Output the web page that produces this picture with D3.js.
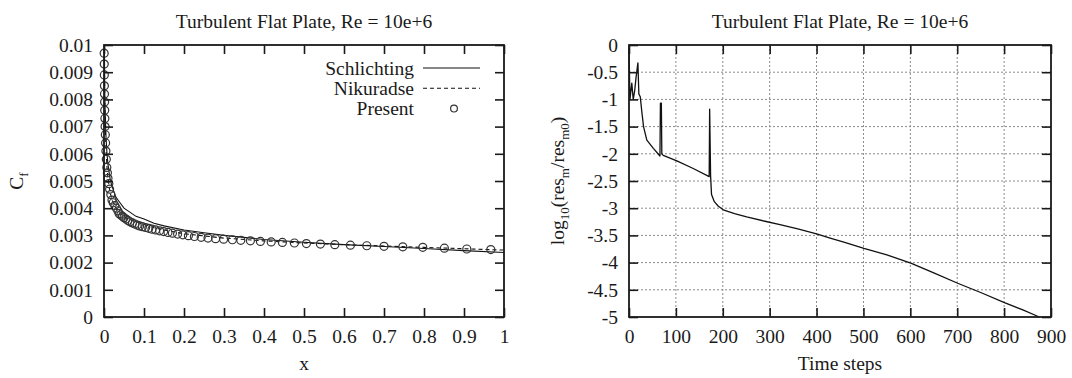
<!DOCTYPE html>
<html>
<head>
<meta charset="utf-8">
<script src="https://cdn.jsdelivr.net/npm/d3@7"></script>
<style>
  body { margin: 0; background: #fff; }
  svg { display: block; font-family: "Liberation Serif", "DejaVu Serif", serif; }
  .tick text { font-size: 19.5px; fill: #1a1a1a; }
</style>
</head>
<body>
<svg id="chart" width="1072" height="378"></svg>
<script>
// TITLES AND LABELS
const titleText = 'Turbulent Flat Plate, Re = 10e+6';
const legendNames = ['Schlichting', 'Nikuradse', 'Present'];

// LEFT PANEL TICKS
const xTicks = [0, 0.1, 0.2, 0.3, 0.4, 0.5, 0.6, 0.7, 0.8, 0.9, 1];
const cfTicks = [0, 0.001, 0.002, 0.003, 0.004, 0.005, 0.006, 0.007, 0.008, 0.009, 0.01];

// SCHLICHTING (SOLID)
const schX = [0.0003, 0.0005, 0.001, 0.002, 0.003, 0.005, 0.0075, 0.01, 0.015, 0.02, 0.03, 0.04, 0.05, 0.06, 0.08,
  0.1, 0.125, 0.15, 0.2, 0.25, 0.3, 0.4, 0.5, 0.6, 0.7, 0.8, 0.9, 1.0];
const schCf = [0.0135, 0.0118, 0.0098, 0.0082, 0.0075, 0.0066, 0.0060, 0.0056, 0.0051, 0.0048, 0.0044, 0.0042, 0.0040, 0.0039, 0.0037,
  0.0036, 0.00345, 0.00335, 0.0032, 0.0031, 0.0030, 0.00285, 0.00275, 0.00266, 0.00259, 0.00252, 0.00244, 0.00237];

// NIKURADSE (DASHED)
const nikX = [0.0003, 0.0005, 0.001, 0.002, 0.003, 0.005, 0.0075, 0.01, 0.015, 0.02, 0.03, 0.04, 0.05, 0.06, 0.08,
  0.1, 0.125, 0.15, 0.2, 0.25, 0.3, 0.4, 0.5, 0.6, 0.7, 0.8, 0.9, 1.0];
const nikCf = [0.0125, 0.0112, 0.0094, 0.0080, 0.0071, 0.0062, 0.0055, 0.0051, 0.0046, 0.0043, 0.0040, 0.0038, 0.0037, 0.0036, 0.0035,
  0.0034, 0.00328, 0.0032, 0.00306, 0.00298, 0.0029, 0.0028, 0.00272, 0.00266, 0.00261, 0.00256, 0.00251, 0.00246];

// PRESENT (CIRCLES)
const presX = [0.0004, 0.0006, 0.0008, 0.001, 0.0012, 0.0015, 0.0018, 0.0022, 0.0027, 0.0033, 0.004, 0.0048, 0.0058, 0.007,
  0.0085, 0.01, 0.012, 0.014, 0.017, 0.02, 0.023, 0.027, 0.031, 0.035, 0.038, 0.042, 0.046, 0.050, 0.055, 0.060, 0.065,
  0.071, 0.077, 0.083, 0.089, 0.096, 0.104, 0.112, 0.120, 0.129, 0.139, 0.149, 0.160, 0.171, 0.184, 0.197, 0.211, 0.226,
  0.243, 0.260, 0.279, 0.299, 0.321, 0.342, 0.366, 0.391, 0.418, 0.446, 0.476, 0.506, 0.541, 0.577, 0.616, 0.657, 0.700,
  0.747, 0.797, 0.851, 0.907, 0.967];
const presCf = [0.0097, 0.0093, 0.0089, 0.0085, 0.0082, 0.0079, 0.0076, 0.0073, 0.0070, 0.0067, 0.0064, 0.0061, 0.0058, 0.0055,
  0.0053, 0.0051, 0.0049, 0.0047, 0.0045, 0.0043, 0.0042, 0.0041, 0.0040, 0.0039, 0.0038, 0.00375, 0.0037, 0.00365, 0.0036,
  0.00355, 0.0035, 0.00346, 0.00342, 0.00338, 0.00335, 0.00332, 0.00329, 0.00326, 0.00323, 0.0032, 0.00317, 0.00314,
  0.00311, 0.00308, 0.00305, 0.00302, 0.00299, 0.00296, 0.00293, 0.0029, 0.00288, 0.00286, 0.00284, 0.00282, 0.0028,
  0.00278, 0.00276, 0.00274, 0.00272, 0.0027, 0.00268, 0.00266, 0.00264, 0.00262, 0.0026, 0.00258, 0.00256, 0.00253,
  0.0025, 0.00248];

// RIGHT PANEL TICKS
const stepTicks = [0, 100, 200, 300, 400, 500, 600, 700, 800, 900];
const resTicks = [0, -0.5, -1, -1.5, -2, -2.5, -3, -3.5, -4, -4.5, -5];

// RESIDUAL HISTORY
const steps = [0, 2, 6, 9, 12, 15, 19, 21, 24, 27, 31, 38, 52, 66, 67, 69, 70, 73, 102, 137, 171, 172, 174, 176, 182,
  190, 201, 225, 251, 290, 322, 360, 400, 429, 460, 501, 550, 601, 650, 701, 750, 802, 840, 875];
const logRes = [-0.05, -1.0, -0.7, -1.0, -0.85, -0.6, -0.33, -0.9, -0.95, -1.2, -1.5, -1.75, -1.9, -2.04, -1.07, -1.07, -2.0,
  -2.03, -2.13, -2.27, -2.42, -1.18, -2.4, -2.75, -2.88, -2.96, -3.03, -3.1, -3.16, -3.24, -3.3, -3.38, -3.47, -3.55,
  -3.63, -3.74, -3.86, -4.01, -4.19, -4.38, -4.55, -4.74, -4.87, -5.0];

const svg = d3.select('#chart');
const ink = '#1a1a1a';
const fs = 19.5;
const tk = 9;

// DRAW FRAME, MIRRORED TICKS AND LABELS
function drawAxes(g, x, y, w, h, xt, yt, xfmt, yfmt) {
  g.append('g')
    .attr('transform', `translate(0,${h})`)
    .call(d3.axisBottom(x).tickValues(xt).tickFormat(xfmt).tickSizeInner(-tk).tickSizeOuter(0).tickPadding(12));
  g.append('g')
    .call(d3.axisTop(x).tickValues(xt).tickFormat('').tickSizeInner(-tk).tickSizeOuter(0));
  g.append('g')
    .call(d3.axisLeft(y).tickValues(yt).tickFormat(yfmt).tickSizeInner(-tk).tickSizeOuter(0).tickPadding(11));
  g.append('g')
    .attr('transform', `translate(${w},0)`)
    .call(d3.axisRight(y).tickValues(yt).tickFormat('').tickSizeInner(-tk).tickSizeOuter(0));
  g.selectAll('.domain').remove();
  g.selectAll('.tick line').attr('stroke', ink).attr('stroke-width', 1.6);
  g.selectAll('.tick text').attr('font-family', 'Liberation Serif');

  g.append('rect')
    .attr('width', w)
    .attr('height', h)
    .attr('fill', 'none')
    .attr('stroke', ink)
    .attr('stroke-width', 1.8);
}

// LEFT PANEL: SKIN FRICTION
(function drawLeft() {
  const m = { left: 104, top: 45 };
  const w = 400, h = 272;
  const g = svg.append('g').attr('transform', `translate(${m.left},${m.top})`);

  const x = d3.scaleLinear().domain([0, 1]).range([0, w]);
  const y = d3.scaleLinear().domain([0, 0.01]).range([h, 0]);

  g.append('clipPath').attr('id', 'clipL')
    .append('rect').attr('width', w).attr('height', h);

  const plot = g.append('g').attr('clip-path', 'url(#clipL)');

  const line = d3.line().x((d) => x(d[0])).y((d) => y(d[1]));

  // SCHLICHTING
  plot.append('path')
    .datum(d3.zip(schX, schCf))
    .attr('fill', 'none')
    .attr('stroke', '#111')
    .attr('stroke-width', 1.1)
    .attr('d', line);

  // NIKURADSE
  plot.append('path')
    .datum(d3.zip(nikX, nikCf))
    .attr('fill', 'none')
    .attr('stroke', '#111')
    .attr('stroke-width', 1.1)
    .attr('stroke-dasharray', '4,3')
    .attr('d', line);

  // PRESENT
  g.append('g')
    .selectAll('circle')
    .data(d3.zip(presX, presCf))
    .enter()
    .append('circle')
    .attr('cx', (d) => x(d[0]))
    .attr('cy', (d) => y(d[1]))
    .attr('r', 4)
    .attr('fill', 'none')
    .attr('stroke', '#333')
    .attr('stroke-width', 1.2);

  drawAxes(g, x, y, w, h, xTicks, cfTicks, (d) => String(d), (d) => String(+d.toFixed(3)));

  // LEGEND
  const lg = g.append('g').attr('transform', `translate(${w - 90},0)`);
  legendNames.forEach((nm, i) => {
    const ly = 23 + i * 20.3;
    lg.append('text')
      .attr('x', 0)
      .attr('y', ly)
      .attr('dy', '0.35em')
      .attr('text-anchor', 'end')
      .attr('font-size', fs)
      .attr('fill', ink)
      .text(nm);
    if (i < 2) {
      lg.append('line')
        .attr('x1', 9).attr('x2', 66)
        .attr('y1', ly).attr('y2', ly)
        .attr('stroke', '#111')
        .attr('stroke-width', 1.1)
        .attr('stroke-dasharray', i === 1 ? '4,3' : null);
    } else {
      lg.append('circle')
        .attr('cx', 40).attr('cy', ly).attr('r', 3.4)
        .attr('fill', 'none').attr('stroke', '#333').attr('stroke-width', 1.2);
    }
  });

  // TITLE AND AXIS LABELS
  g.append('text').attr('x', w / 2).attr('y', -24).attr('dy', '0.35em')
    .attr('text-anchor', 'middle').attr('font-size', fs).attr('fill', ink).text(titleText);
  g.append('text').attr('x', w / 2).attr('y', h + 53)
    .attr('text-anchor', 'middle').attr('font-size', fs).attr('fill', ink).text('x');

  const yl = g.append('text')
    .attr('transform', `translate(${16 - m.left},${h / 2}) rotate(-90)`)
    .attr('text-anchor', 'middle').attr('dy', '0.35em').attr('font-size', fs).attr('fill', ink);
  yl.append('tspan').text('C');
  yl.append('tspan').attr('font-size', 13).attr('dy', 5).text('f');
})();

// RIGHT PANEL: RESIDUAL CONVERGENCE
(function drawRight() {
  const m = { left: 629, top: 45 };
  const w = 422, h = 272;
  const g = svg.append('g').attr('transform', `translate(${m.left},${m.top})`);

  const x = d3.scaleLinear().domain([0, 900]).range([0, w]);
  const y = d3.scaleLinear().domain([-5, 0]).range([h, 0]);

  // GRID
  const grid = g.append('g').attr('stroke', '#8a8a8a').attr('stroke-width', 1).attr('stroke-dasharray', '2,2');
  grid.selectAll('.gx')
    .data(stepTicks.slice(1, -1))
    .enter()
    .append('line')
    .attr('x1', (d) => x(d)).attr('x2', (d) => x(d))
    .attr('y1', 0).attr('y2', h);
  grid.selectAll('.gy')
    .data(resTicks.slice(1, -1))
    .enter()
    .append('line')
    .attr('x1', 0).attr('x2', w)
    .attr('y1', (d) => y(d)).attr('y2', (d) => y(d));

  // RESIDUAL LINE
  const line = d3.line().x((d) => x(d[0])).y((d) => y(d[1]));
  g.append('path')
    .datum(d3.zip(steps, logRes))
    .attr('fill', 'none')
    .attr('stroke', '#111')
    .attr('stroke-width', 1.3)
    .attr('stroke-linejoin', 'round')
    .attr('d', line);

  drawAxes(g, x, y, w, h, stepTicks, resTicks, (d) => String(d), (d) => String(d));

  // TITLE AND AXIS LABELS
  g.append('text').attr('x', w / 2).attr('y', -24).attr('dy', '0.35em')
    .attr('text-anchor', 'middle').attr('font-size', fs).attr('fill', ink).text(titleText);
  g.append('text').attr('x', w / 2).attr('y', h + 53)
    .attr('text-anchor', 'middle').attr('font-size', fs).attr('fill', ink).text('Time steps');

  const yl = g.append('text')
    .attr('transform', `translate(${557 - m.left},${h / 2}) rotate(-90)`)
    .attr('text-anchor', 'middle').attr('dy', '0.35em').attr('font-size', fs).attr('fill', ink);
  yl.append('tspan').text('log');
  yl.append('tspan').attr('font-size', 13).attr('dy', 5).text('10');
  yl.append('tspan').attr('dy', -5).text('(res');
  yl.append('tspan').attr('font-size', 13).attr('dy', 5).text('m');
  yl.append('tspan').attr('dy', -5).text('/res');
  yl.append('tspan').attr('font-size', 13).attr('dy', 5).text('m0');
  yl.append('tspan').attr('dy', -5).text(')');
})();
</script>
</body>
</html>
